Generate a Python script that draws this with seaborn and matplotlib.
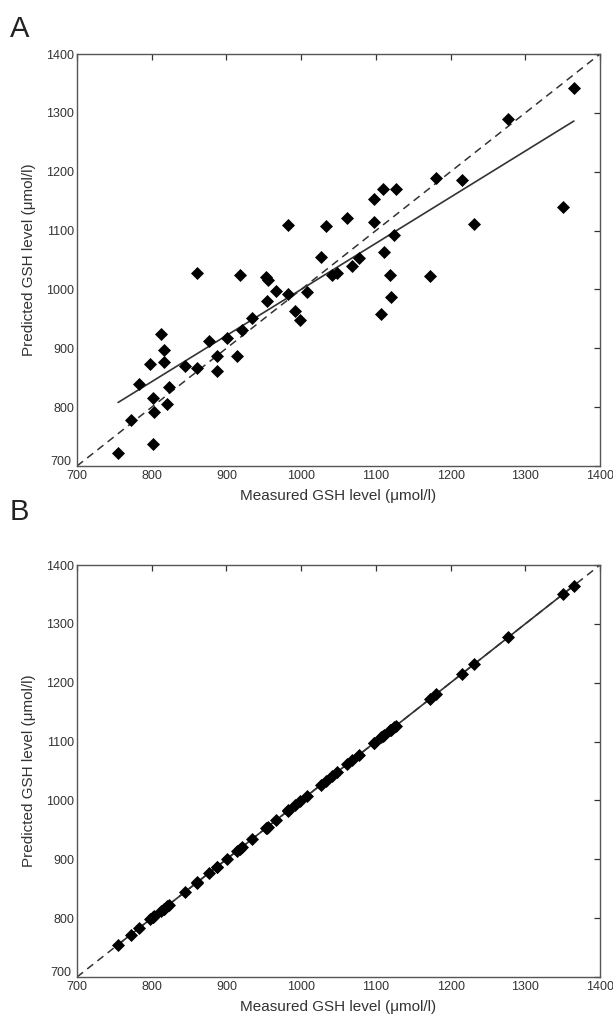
import numpy as np
import pandas as pd
import matplotlib
matplotlib.use("Agg")
import matplotlib.pyplot as plt
import matplotlib.transforms as mtransforms
import seaborn as sns

# ---- data ----
measured = [755, 772, 783, 798, 802, 803, 802, 812, 816, 816, 823, 821, 845, 860, 861,
            877, 887, 887, 901, 914, 918, 921, 934, 953, 955, 954, 967, 982, 983, 992,
            999, 1008, 1027, 1033, 1041, 1048, 1062, 1068, 1078, 1098, 1098, 1107, 1110,
            1111, 1119, 1120, 1124, 1127, 1172, 1181, 1215, 1231, 1277, 1350, 1365]
predicted_a = [722, 778, 839, 873, 816, 791, 737, 925, 897, 877, 835, 805, 870, 867, 1028,
               912, 887, 861, 918, 887, 1024, 931, 951, 1021, 1016, 981, 997, 993, 1109, 963,
               948, 995, 1055, 1107, 1025, 1028, 1122, 1039, 1054, 1154, 1114, 959, 1171,
               1063, 1024, 987, 1092, 1171, 1022, 1189, 1186, 1111, 1290, 1140, 1343]
predicted_b = [755, 772, 783, 798, 802, 803, 802, 812, 816, 816, 823, 821, 845, 860, 861,
               877, 887, 887, 901, 914, 918, 921, 934, 953, 955, 954, 967, 982, 983, 992,
               999, 1008, 1027, 1033, 1041, 1048, 1062, 1068, 1078, 1098, 1098, 1107, 1110,
               1111, 1119, 1120, 1124, 1127, 1172, 1181, 1215, 1231, 1277, 1350, 1365]
identity = [700, 1400]
ticks = [700, 800, 900, 1000, 1100, 1200, 1300, 1400]
panel_labels = ["A", "B"]
xlabel = "Measured GSH level (\u03bcmol/l)"
ylabel = "Predicted GSH level (\u03bcmol/l)"

sns.set_theme(style="white")
plt.rcParams['font.family'] = ['Liberation Sans', 'DejaVu Sans']

fig = plt.figure(figsize=(6.13, 10.19), dpi=100)
W, H = 613, 1019
boxes = [(77, 54, 600, 466), (77, 565, 600, 977)]
label_pos = [(10, 37), (10, 520)]

for (l, t, r, b), pred, lab, (lx, ly) in zip(boxes, [predicted_a, predicted_b], panel_labels, label_pos):
    ax = fig.add_axes([l / W, 1 - b / H, (r - l) / W, (b - t) / H])
    df = pd.DataFrame({"measured": measured, "predicted": pred})
    sns.lineplot(x=identity, y=identity, ax=ax, color="#333333", lw=1.1,
                 linestyle=(0, (5, 3.5)))
    sns.regplot(data=df, x="measured", y="predicted", ax=ax, scatter=False, ci=None,
                truncate=True, line_kws=dict(color="#333333", lw=1.2))
    sns.scatterplot(data=df, x="measured", y="predicted", ax=ax, marker="D",
                    s=44, color="black", edgecolor="black", linewidth=0, zorder=3)
    ax.set_xlim(700, 1400)
    ax.set_ylim(700, 1400)
    ax.set_xticks(ticks)
    ax.set_yticks(ticks)
    ax.tick_params(direction="in", length=4, width=0.9, top=True, right=True,
                   labelsize=9, colors="#333333", labelcolor="#333333")
    ax.tick_params(axis="x", labeltop=False, pad=3)
    ax.tick_params(axis="y", labelright=False, pad=2)
    # nudge the corner "700" y label upward a little, as in the reference
    fig.canvas.draw()
    ylab0 = ax.get_yticklabels()[0]
    ylab0.set_transform(ylab0.get_transform() +
                        mtransforms.ScaledTranslation(-2 / 72, 4 / 72, fig.dpi_scale_trans))
    for sp in ax.spines.values():
        sp.set_color("#555555")
        sp.set_linewidth(1.0)
    ax.set_xlabel(xlabel, fontsize=11, color="#333333", labelpad=5)
    ax.set_ylabel(ylabel, fontsize=11, color="#333333", labelpad=7)
    fig.text(lx / W, 1 - ly / H, lab, fontsize=21, color="#222222", ha="left", va="baseline")

fig.savefig("out.png", dpi=100, facecolor="white")
